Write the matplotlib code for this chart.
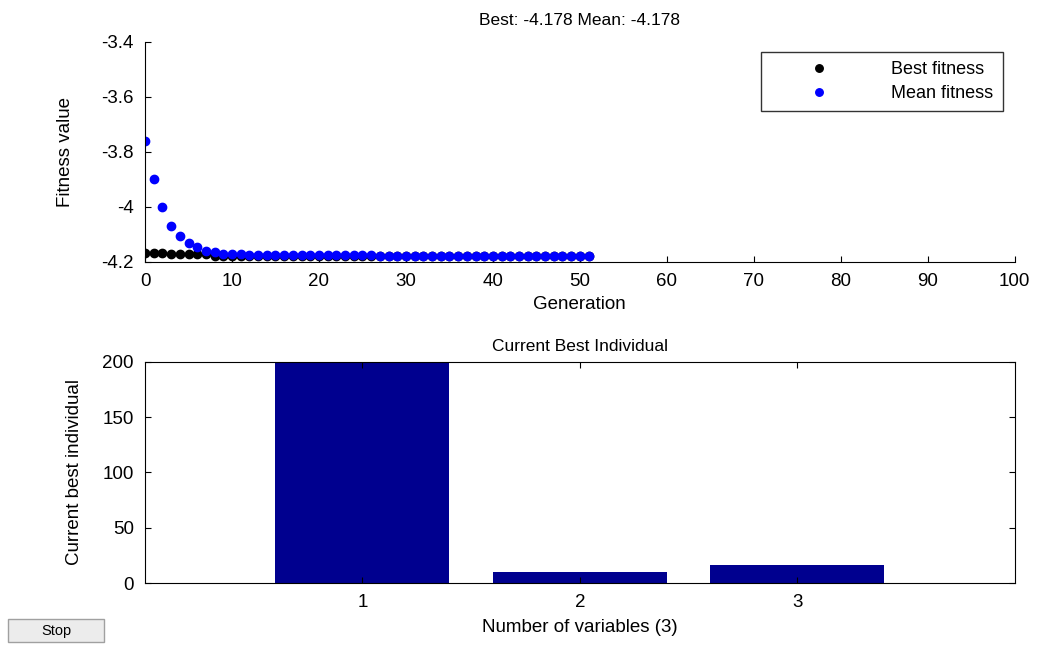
import numpy as np
import matplotlib as mpl
mpl.use('Agg')
import matplotlib.pyplot as plt
from matplotlib.patches import Rectangle

plt.rcParams['font.family'] = ['Liberation Sans', 'DejaVu Sans']

# fitness per generation
generations = list(range(0, 52))
best_fitness = [-4.166] * 3 + [-4.172] * 5 + [-4.178] * 44
mean_fitness = [-3.759, -3.899, -4.000, -4.069, -4.105, -4.130, -4.147, -4.159,
                -4.165, -4.171, -4.171, -4.171] + [-4.176] * 15 + [-4.178] * 25

# current best individual
variables = [1, 2, 3]
individual = [200, 10, 16]

fig = plt.figure(figsize=(10.39, 6.45), dpi=100)

ax1 = fig.add_axes([0.1396, 0.5938, 0.837, 0.3411])
ax1.plot(generations, best_fitness, 'o', color='black', markersize=6, label='Best fitness')
ax1.plot(generations, mean_fitness, 'o', color='blue', markersize=6, label='Mean fitness')
ax1.set_xlim(0, 100)
ax1.set_ylim(-4.2, -3.4)
ax1.set_xticks(range(0, 101, 10))
ax1.set_yticks([-4.2, -4.0, -3.8, -3.6, -3.4])
ax1.set_yticklabels(['-4.2', '-4', '-3.8', '-3.6', '-3.4'])
ax1.spines['top'].set_visible(False)
ax1.spines['right'].set_visible(False)
ax1.tick_params(direction='in', labelsize=13.5, length=4, pad=8)
ax1.set_xlabel('Generation', fontsize=13.5, labelpad=4)
ax1.set_ylabel('Fitness value', fontsize=13.5, labelpad=20)
ax1.set_title('Best: -4.178 Mean: -4.178', fontsize=12.5, pad=12)
leg = ax1.legend(loc='upper right', bbox_to_anchor=(0.986, 0.955), fontsize=13,
                 frameon=True, fancybox=False, edgecolor='black', markerscale=0.9,
                 handlelength=5.4, handletextpad=1.3, borderpad=0.5, labelspacing=0.4,
                 borderaxespad=0)
leg.get_frame().set_linewidth(1.0)

ax2 = fig.add_axes([0.1396, 0.0961, 0.837, 0.3427])
ax2.bar(variables, individual, width=0.8, color='#00008f')
ax2.set_xlim(0, 4)
ax2.set_ylim(0, 200)
ax2.set_xticks(variables)
ax2.set_yticks([0, 50, 100, 150, 200])
ax2.tick_params(direction='in', labelsize=13.5, length=4, pad=8, right=True, top=True)
ax2.set_xlabel('Number of variables (3)', fontsize=13.5, labelpad=6)
ax2.set_ylabel('Current best individual', fontsize=13.5, labelpad=14)
ax2.set_title('Current Best Individual', fontsize=12.5, pad=8)

# Stop button in the corner
fig.add_artist(Rectangle((0.0077, 0.004), 0.0924, 0.0357, transform=fig.transFigure,
                         facecolor='#ececec', edgecolor='#a0a0a0', linewidth=1))
fig.text(0.0539, 0.022, 'Stop', fontsize=10.5, ha='center', va='center')

plt.savefig('out.png', dpi=100)
plt.close()
